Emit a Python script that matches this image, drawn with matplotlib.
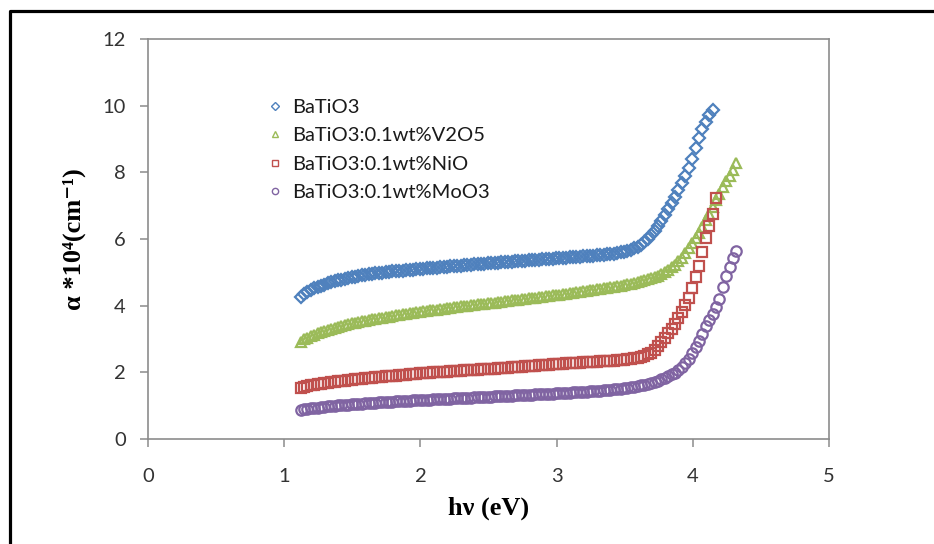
#!/usr/bin/env python3
import matplotlib
matplotlib.use('Agg')
import matplotlib.pyplot as plt
from matplotlib.lines import Line2D

# photon energy (eV), shared by all samples
hv = [1.120, 1.145, 1.170, 1.195, 1.220, 1.245, 1.270, 1.295, 1.320, 1.345,
      1.370, 1.395, 1.420, 1.445, 1.470, 1.495, 1.520, 1.545, 1.570, 1.595,
      1.620, 1.645, 1.670, 1.695, 1.720, 1.745, 1.770, 1.795, 1.820, 1.845,
      1.870, 1.895, 1.920, 1.945, 1.970, 1.995, 2.020, 2.045, 2.070, 2.095,
      2.120, 2.145, 2.170, 2.195, 2.220, 2.245, 2.270, 2.295, 2.320, 2.345,
      2.370, 2.395, 2.420, 2.445, 2.470, 2.495, 2.520, 2.545, 2.570, 2.595,
      2.620, 2.645, 2.670, 2.695, 2.720, 2.745, 2.770, 2.795, 2.820, 2.845,
      2.870, 2.895, 2.920, 2.945, 2.970, 2.995, 3.020, 3.045, 3.070, 3.095,
      3.120, 3.145, 3.170, 3.195, 3.220, 3.245, 3.270, 3.295, 3.320, 3.345,
      3.370, 3.395, 3.420, 3.445, 3.470, 3.495, 3.520, 3.545, 3.570, 3.595,
      3.620, 3.645, 3.670, 3.695, 3.720, 3.745, 3.770, 3.795, 3.820, 3.845,
      3.870, 3.895, 3.920, 3.945, 3.970, 3.995, 4.020, 4.045, 4.070, 4.095,
      4.120, 4.145, 4.170, 4.195, 4.220, 4.245, 4.270, 4.295, 4.320]

# alpha * 10^4 (cm^-1)
alpha_batio3 = [
    4.25, 4.34, 4.41, 4.47, 4.52, 4.56, 4.60, 4.63, 4.67, 4.70,
    4.73, 4.76, 4.78, 4.81, 4.83, 4.86, 4.87, 4.89, 4.91, 4.93,
    4.94, 4.95, 4.97, 4.98, 4.99, 5.00, 5.02, 5.03, 5.04, 5.05,
    5.05, 5.06, 5.07, 5.08, 5.09, 5.10, 5.11, 5.12, 5.12, 5.13,
    5.14, 5.15, 5.16, 5.17, 5.18, 5.18, 5.19, 5.20, 5.21, 5.22,
    5.23, 5.24, 5.24, 5.25, 5.26, 5.27, 5.28, 5.28, 5.29, 5.30,
    5.31, 5.31, 5.32, 5.33, 5.34, 5.34, 5.35, 5.36, 5.37, 5.37,
    5.38, 5.39, 5.40, 5.40, 5.41, 5.42, 5.43, 5.43, 5.44, 5.45,
    5.46, 5.46, 5.47, 5.48, 5.49, 5.50, 5.50, 5.51, 5.52, 5.53,
    5.54, 5.55, 5.56, 5.58, 5.60, 5.62, 5.65, 5.68, 5.72, 5.77,
    5.83, 5.91, 6.01, 6.12, 6.25, 6.38, 6.54, 6.71, 6.90, 7.08,
    7.27, 7.46, 7.68, 7.90, 8.14, 8.40, 8.72, 9.03, 9.30, 9.52,
    9.72, 9.88]

alpha_v2o5 = [
    2.92, 2.99, 3.04, 3.09, 3.13, 3.17, 3.21, 3.24, 3.27, 3.30,
    3.33, 3.36, 3.39, 3.42, 3.44, 3.47, 3.49, 3.51, 3.53, 3.55,
    3.57, 3.59, 3.61, 3.63, 3.64, 3.66, 3.67, 3.69, 3.71, 3.72,
    3.74, 3.75, 3.77, 3.78, 3.80, 3.82, 3.83, 3.84, 3.86, 3.87,
    3.88, 3.90, 3.91, 3.92, 3.94, 3.95, 3.96, 3.98, 3.99, 4.00,
    4.01, 4.02, 4.04, 4.05, 4.06, 4.07, 4.08, 4.09, 4.11, 4.12,
    4.13, 4.14, 4.16, 4.17, 4.18, 4.19, 4.21, 4.22, 4.23, 4.24,
    4.26, 4.27, 4.28, 4.29, 4.31, 4.32, 4.33, 4.35, 4.36, 4.38,
    4.39, 4.41, 4.42, 4.44, 4.45, 4.47, 4.48, 4.50, 4.51, 4.53,
    4.54, 4.56, 4.57, 4.59, 4.60, 4.62, 4.64, 4.66, 4.68, 4.71,
    4.73, 4.76, 4.79, 4.82, 4.85, 4.89, 4.94, 5.00, 5.07, 5.15,
    5.23, 5.33, 5.44, 5.57, 5.72, 5.87, 6.03, 6.19, 6.37, 6.56,
    6.76, 6.96, 7.16, 7.36, 7.55, 7.73, 7.89, 8.06, 8.27]

alpha_nio = [
    1.53, 1.56, 1.59, 1.61, 1.63, 1.65, 1.66, 1.68, 1.69, 1.70,
    1.72, 1.73, 1.74, 1.75, 1.76, 1.78, 1.79, 1.80, 1.81, 1.82,
    1.83, 1.84, 1.85, 1.86, 1.87, 1.88, 1.89, 1.89, 1.90, 1.91,
    1.92, 1.93, 1.94, 1.95, 1.96, 1.97, 1.98, 1.98, 1.99, 2.00,
    2.00, 2.01, 2.02, 2.02, 2.03, 2.04, 2.04, 2.05, 2.06, 2.06,
    2.07, 2.08, 2.08, 2.09, 2.09, 2.10, 2.11, 2.11, 2.12, 2.13,
    2.13, 2.14, 2.15, 2.16, 2.16, 2.17, 2.18, 2.19, 2.19, 2.20,
    2.21, 2.22, 2.22, 2.23, 2.24, 2.25, 2.25, 2.26, 2.27, 2.27,
    2.28, 2.28, 2.29, 2.30, 2.30, 2.31, 2.31, 2.32, 2.33, 2.33,
    2.34, 2.35, 2.35, 2.36, 2.37, 2.38, 2.39, 2.41, 2.42, 2.44,
    2.47, 2.50, 2.54, 2.59, 2.68, 2.79, 2.92, 3.04, 3.17, 3.31,
    3.46, 3.62, 3.81, 4.02, 4.24, 4.52, 4.86, 5.20, 5.60, 6.02,
    6.39, 6.76, 7.22]

alpha_moo3 = [
    0.87, 0.89, 0.90, 0.92, 0.93, 0.94, 0.96, 0.97, 0.98, 0.99,
    1.00, 1.01, 1.01, 1.02, 1.03, 1.04, 1.05, 1.05, 1.06, 1.07,
    1.08, 1.08, 1.09, 1.10, 1.10, 1.11, 1.11, 1.12, 1.13, 1.13,
    1.14, 1.15, 1.15, 1.16, 1.16, 1.17, 1.17, 1.18, 1.18, 1.19,
    1.19, 1.20, 1.20, 1.21, 1.21, 1.22, 1.22, 1.23, 1.23, 1.24,
    1.24, 1.25, 1.25, 1.26, 1.26, 1.27, 1.27, 1.28, 1.28, 1.29,
    1.29, 1.30, 1.30, 1.31, 1.31, 1.32, 1.32, 1.33, 1.33, 1.34,
    1.34, 1.35, 1.35, 1.36, 1.36, 1.37, 1.37, 1.38, 1.39, 1.39,
    1.40, 1.40, 1.41, 1.41, 1.42, 1.43, 1.43, 1.44, 1.45, 1.46,
    1.47, 1.48, 1.49, 1.50, 1.51, 1.52, 1.53, 1.55, 1.57, 1.59,
    1.61, 1.63, 1.65, 1.68, 1.71, 1.75, 1.79, 1.83, 1.88, 1.94,
    1.99, 2.06, 2.16, 2.28, 2.41, 2.57, 2.75, 2.93, 3.16, 3.38,
    3.57, 3.76, 3.96, 4.20, 4.55, 4.88, 5.17, 5.43, 5.65]

labels = ['BaTiO3', 'BaTiO3:0.1wt%V2O5', 'BaTiO3:0.1wt%NiO',
          'BaTiO3:0.1wt%MoO3']
series = [alpha_batio3, alpha_v2o5, alpha_nio, alpha_moo3]
colors = ['#4F81BD', '#9BBB59', '#C0504D', '#8064A2']
markers = ['D', '^', 's', 'o']
msizes = [6.5, 7.5, 7.5, 7.5]

x_ticks = [0, 1, 2, 3, 4, 5]
y_ticks = [0, 2, 4, 6, 8, 10, 12]


def main():
    fig = plt.figure(figsize=(9.34, 5.44), dpi=100)
    ax = fig.add_axes([148 / 934, 1 - 439 / 544, 681 / 934, 400 / 544])

    for vals, lab, c, m, ms in zip(series, labels, colors, markers, msizes):
        ax.plot(hv[:len(vals)], vals, linestyle='none', marker=m,
                markersize=ms, markerfacecolor='none', markeredgecolor=c,
                markeredgewidth=1.6, label=lab)

    ax.set_xlim(0, 5)
    ax.set_ylim(0, 12)
    ax.set_xticks(x_ticks)
    ax.set_yticks(y_ticks)
    for sp in ax.spines.values():
        sp.set_color('#8c8c8c')
        sp.set_linewidth(1.2)
    ax.tick_params(axis='both', colors='#8c8c8c', length=6, width=1.1,
                   labelcolor='#333333', labelsize=14.5,
                   labelfontfamily='Lato')
    ax.tick_params(axis='x', pad=15)
    ax.tick_params(axis='y', pad=10)

    ax.set_xlabel('hν (eV)', fontsize=19, fontweight='bold',
                  family=['Liberation Serif', 'DejaVu Serif'], labelpad=8)
    ax.set_ylabel('α *10⁴(cm⁻¹)', fontsize=19, fontweight='bold',
                  family=['Liberation Serif', 'DejaVu Serif'], labelpad=12)

    leg = ax.legend(loc='upper left', bbox_to_anchor=(0.145, 0.895),
                    frameon=False, numpoints=1, markerscale=0.6,
                    handlelength=1.0, handletextpad=0.35, labelspacing=0.55,
                    prop={'family': 'Lato', 'size': 14.5})
    for t in leg.get_texts():
        t.set_color('#1a1a1a')
    for h in leg.legend_handles:
        h.set_markeredgewidth(1.0)

    # black frame around the figure (cut off at right and bottom)
    fig.add_artist(Line2D([9.5 / 934, 9.5 / 934, 1.0],
                          [0.0, 1 - 10.5 / 544, 1 - 10.5 / 544],
                          transform=fig.transFigure, color='black',
                          linewidth=2.3))

    fig.savefig('out.png', dpi=100)


if __name__ == '__main__':
    main()
